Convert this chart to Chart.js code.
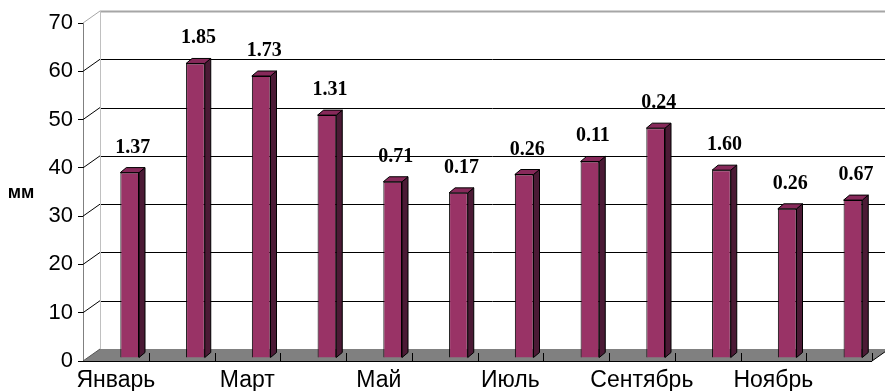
<!DOCTYPE html>
<html>
<head>
<meta charset="utf-8">
<script src="https://cdn.jsdelivr.net/npm/chart.js@4/dist/chart.umd.min.js"></script>
<style>
  html, body { margin: 0; padding: 0; background: #fff; }
  #wrap { width: 885px; height: 391px; position: relative; }
</style>
</head>
<body>
<div id="wrap"><canvas id="c"></canvas></div>
<script>
// Monthly precipitation, mm
const months = ['Январь', 'Февраль', 'Март', 'Апрель', 'Май', 'Июнь',
                'Июль', 'Август', 'Сентябрь', 'Октябрь', 'Ноябрь', 'Декабрь'];
const rainfall = [38.4, 61.0, 58.4, 50.3, 36.5, 34.2, 38.0, 40.7, 47.6, 38.9, 30.9, 32.7];
const notes = ['1.37', '1.85', '1.73', '1.31', '0.71', '0.17', '0.26', '0.11', '0.24', '1.60', '0.26', '0.67'];
const axisMin = 0;
const axisMax = 70;
const axisStep = 10;
const unitLabel = 'мм';

// Pseudo-3D offsets (pixels)
const WALL = { dx: 17, dy: -12 };   // front plane -> back wall
const BAR = { dx: 13.8, dy: -3 };   // front plane -> bar front faces
const FACE = { dx: 6, dy: -5 };     // bar depth

const COLORS = {
  front: '#993366',
  side: '#4b1a35',
  top: '#87295a',
  floor: '#808080',
  grid: '#000000',
  gridTop: '#a6a6a6',
  wallEdge: '#c0c0c0'
};

const crisp = v => Math.round(v) + 0.5;

function line(ctx, x1, y1, x2, y2, color, w) {
  ctx.beginPath();
  ctx.moveTo(x1, y1);
  ctx.lineTo(x2, y2);
  ctx.strokeStyle = color;
  ctx.lineWidth = w || 1;
  ctx.stroke();
}

const box3d = {
  id: 'box3d',
  beforeDatasetsDraw(chart) {
    const { ctx, chartArea: a, scales: { x, y } } = chart;
    const W = chart.width;
    ctx.save();
    // back wall grid lines
    for (let v = axisMin + axisStep; v <= axisMax; v += axisStep) {
      const yb = crisp(y.getPixelForValue(v) + WALL.dy);
      const top = v === axisMax;
      line(ctx, a.left + WALL.dx, yb, W, yb, top ? COLORS.gridTop : COLORS.grid, top ? 2 : 1);
    }
    // back wall left edge
    const xb = crisp(a.left + WALL.dx);
    line(ctx, xb, y.getPixelForValue(axisMax) + WALL.dy, xb, y.getPixelForValue(axisMin) + WALL.dy, COLORS.wallEdge, 1);
    // side wall diagonals
    for (let v = axisMin + axisStep; v <= axisMax; v += axisStep) {
      const yf = y.getPixelForValue(v);
      line(ctx, a.left, yf, a.left + WALL.dx, yf + WALL.dy, v === axisMax ? COLORS.gridTop : COLORS.grid, 1);
    }
    // floor
    const y0 = y.getPixelForValue(axisMin);
    ctx.beginPath();
    ctx.moveTo(a.left, y0);
    ctx.lineTo(a.right, y0);
    ctx.lineTo(a.right + WALL.dx, y0 + WALL.dy);
    ctx.lineTo(a.left + WALL.dx, y0 + WALL.dy);
    ctx.closePath();
    ctx.fillStyle = COLORS.floor;
    ctx.fill();
    line(ctx, a.right, y0, a.right + WALL.dx, y0 + WALL.dy, '#000', 1);
    line(ctx, a.left, y0, a.left + WALL.dx, y0 + WALL.dy, '#555', 1);
    // category separators on the floor
    const step = (a.right - a.left) / months.length;
    for (let i = 1; i <= months.length; i++) {
      const xt = crisp(a.left + i * step);
      line(ctx, xt, y0 - 8, xt, y0, '#000', 1);
    }
    // front edge of the floor
    line(ctx, a.left - 5, crisp(y0), a.right, crisp(y0), '#000', 1);
    // unit label
    ctx.fillStyle = '#000';
    ctx.font = 'bold 18px "Liberation Sans", Arial, sans-serif';
    ctx.textAlign = 'center';
    ctx.textBaseline = 'alphabetic';
    ctx.fillText(unitLabel, 21, 198);
    ctx.restore();

    // bars are drawn set back into the box
    ctx.save();
    ctx.translate(BAR.dx, BAR.dy);
  },
  afterDatasetsDraw(chart) {
    const { ctx } = chart;
    const meta = chart.getDatasetMeta(0);
    meta.data.forEach(el => {
      const p = el.getProps(['x', 'y', 'base', 'width'], true);
      const L = p.x - p.width / 2, R = p.x + p.width / 2, T = p.y, B = p.base;
      ctx.lineWidth = 1;
      ctx.strokeStyle = '#000';
      // side face
      ctx.beginPath();
      ctx.moveTo(R, T);
      ctx.lineTo(R + FACE.dx, T + FACE.dy);
      ctx.lineTo(R + FACE.dx, B + FACE.dy);
      ctx.lineTo(R, B);
      ctx.closePath();
      ctx.fillStyle = COLORS.side;
      ctx.fill();
      ctx.stroke();
      // top face
      ctx.beginPath();
      ctx.moveTo(L, T);
      ctx.lineTo(L + FACE.dx, T + FACE.dy);
      ctx.lineTo(R + FACE.dx, T + FACE.dy);
      ctx.lineTo(R, T);
      ctx.closePath();
      ctx.fillStyle = COLORS.top;
      ctx.fill();
      ctx.stroke();
    });
    // labels above the bars
    ctx.fillStyle = '#000';
    ctx.font = 'bold 20px "Liberation Serif", "Times New Roman", serif';
    ctx.textAlign = 'center';
    ctx.textBaseline = 'alphabetic';
    meta.data.forEach((el, i) => {
      const p = el.getProps(['x', 'y'], true);
      ctx.fillText(notes[i], p.x + FACE.dx / 2, p.y - 20);
    });
    ctx.restore();
  }
};

new Chart(document.getElementById('c'), {
  type: 'bar',
  data: {
    labels: months,
    datasets: [{
      data: rainfall,
      backgroundColor: COLORS.front,
      borderColor: '#000',
      borderWidth: 1,
      barPercentage: 0.284,
      categoryPercentage: 1,
      clip: false
    }]
  },
  options: {
    responsive: true,
    maintainAspectRatio: false,
    devicePixelRatio: 1,
    animation: false,
    events: [],
    layout: { padding: { top: 23, right: 13, left: 0, bottom: 0 } },
    plugins: { legend: { display: false }, tooltip: { enabled: false } },
    scales: {
      x: {
        grid: { display: false },
        border: { display: false },
        ticks: {
          autoSkip: false,
          maxRotation: 0,
          padding: -2,
          color: '#000',
          font: { family: '"Liberation Sans", Arial, sans-serif', size: 23 },
          callback: (v, i) => (i % 2 === 0 ? months[i] : '')
        },
        afterFit: s => { s.height = 30; }
      },
      y: {
        min: axisMin,
        max: axisMax,
        grid: { drawOnChartArea: false, tickLength: 5, color: '#000' },
        border: { display: true, color: '#808080' },
        ticks: {
          stepSize: axisStep,
          padding: 5,
          color: '#000',
          font: { family: '"Liberation Sans", Arial, sans-serif', size: 22 }
        },
        afterFit: s => { s.width = 83; }
      }
    }
  },
  plugins: [box3d]
});
</script>
</body>
</html>
